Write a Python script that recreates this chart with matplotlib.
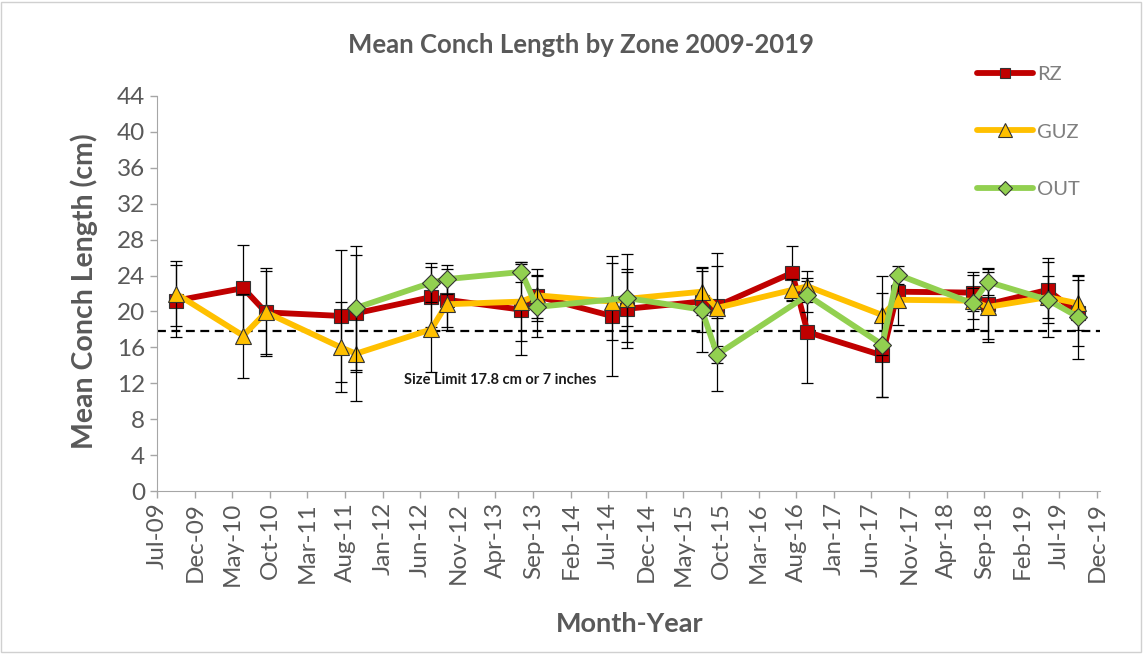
import numpy as np
import matplotlib.pyplot as plt
import matplotlib.dates as mdates
from matplotlib.patches import Rectangle

plt.rcParams['font.family'] = ['Lato', 'DejaVu Sans']

# sampling dates (mid-month)
dates = ['2009-09-15', '2010-06-15', '2010-09-15', '2011-07-15', '2011-09-15',
         '2012-07-15', '2012-09-15', '2013-07-15', '2013-09-15', '2014-07-15',
         '2014-09-15', '2015-07-15', '2015-09-15', '2016-07-15', '2016-09-15',
         '2017-07-15', '2017-09-15', '2018-07-15', '2018-09-15', '2019-05-15',
         '2019-09-15']
nan = np.nan
#mean length (cm) per zone
rz = [21.2, 22.6, 19.9, 19.5, 19.8, 21.6, 21.3, 20.2, 21.7, 19.5, 20.3,
      21.1, 20.6, 24.3, 17.7, 15.1, 22.2, 22.1, 20.8, 22.4, 19.8]
guz = [22.0, 17.3, 19.9, 16.0, 15.3, 18.0, 20.8, 21.1, 21.8, 21.1, 21.4,
       22.2, 20.4, 22.4, 22.8, 19.6, 21.3, 21.2, 20.5, 21.6, 20.9]
out = [nan, nan, nan, nan, 20.4, 23.2, 23.6, 24.4, 20.5, nan, 21.5,
       20.2, 15.2, nan, 21.8, 16.3, 24.1, 20.9, 23.3, 21.3, 19.4]
#error bars
rz_err = [4.0, 4.8, 4.9, 7.4, 6.5, 3.3, 3.4, 5.1, 2.4, 6.7, 4.4,
          3.4, 4.5, 3.0, 5.7, 4.6, 1.5, 2.0, 3.9, 3.1, 3.7]
guz_err = [3.6, 4.7, 4.6, 5.0, 5.3, 4.7, 2.5, 4.4, 2.9, 4.3, 3.0,
           2.6, 6.1, 1.2, 1.7, 4.4, 2.8, 3.2, 3.9, 4.4, 3.0]
out_err = [nan, nan, nan, nan, 6.9, 2.2, 1.6, 1.1, 3.4, nan, 4.9,
           4.7, 4.1, nan, 1.9, 5.8, 1.0, 1.7, 1.5, 2.6, 4.7]
size_limit = 17.8

x = np.array(dates, dtype='datetime64[D]')

fig = plt.figure(figsize=(11.44, 6.54), dpi=100)
ax = fig.add_axes([157/1144, 1-491/654, (1100-157)/1144, (491-96)/654])

series = [("RZ", rz, rz_err, '#C00000', 's', 9.4),
          ("GUZ", guz, guz_err, '#FFC000', '^', 12),
          ("OUT", out, out_err, '#92D050', 'D', 8.7)]

ax.axhline(size_limit, color='black', lw=1.6, ls=(0, (4, 2.5)), zorder=1)

z = 2
for name, y, e, col, mk, ms in series:
    y = np.array(y)
    e = np.array(e)
    m = ~np.isnan(y)
    ax.errorbar(x[m], y[m], yerr=e[m], fmt='none', ecolor='black',
                elinewidth=0.9, capsize=4.3, capthick=0.9, zorder=z)
    ax.plot(x[m], y[m], color=col, lw=4.2, marker=mk, ms=ms,
            mfc=col, mec='#333333', mew=0.8, label=name,
            solid_joinstyle='round', solid_capstyle='round', zorder=z+1)
    z += 2

ax.text(np.datetime64('2013-04-20'), 12.4, 'Size Limit 17.8 cm or 7 inches',
        fontsize=10.5, fontweight='bold', color='#1a1a1a', ha='center', va='center')

ax.set_ylim(0, 44)
ax.set_yticks(np.arange(0, 45, 4))
ax.set_xlim(np.datetime64('2009-07-01'), np.datetime64('2019-12-13'))
ticks = np.arange(np.datetime64('2009-07'), np.datetime64('2020-01'), 5).astype('datetime64[D]')
ax.set_xticks(ticks)
ax.xaxis.set_major_formatter(mdates.DateFormatter('%b-%y'))
for lab in ax.get_xticklabels():
    lab.set_rotation(90)

for s in ['top', 'right']:
    ax.spines[s].set_visible(False)
for s in ['left', 'bottom']:
    ax.spines[s].set_color('#A6A6A6')
ax.tick_params(axis='both', colors='#A6A6A6', length=5, width=1, labelcolor='#595959')
ax.tick_params(axis='y', labelsize=17.5)
ax.tick_params(axis='x', labelsize=17.5, pad=3)

fig.text(581/1144, 1-45/654, 'Mean Conch Length by Zone 2009-2019', fontsize=18.5,
         fontweight='bold', color='#595959', ha='center', va='center')
fig.text(84/1144, 1-291/654, 'Mean Conch Length (cm)', fontsize=20.5, fontweight='bold',
         color='#595959', ha='center', va='center', rotation=90)
fig.text(630/1144, 1-624/654, 'Month-Year', fontsize=19.5, fontweight='bold',
         color='#595959', ha='center', va='center')

fig.legend(loc='upper left', bbox_to_anchor=(967/1144, 1-56/654), frameon=False,
           handlelength=2.8, labelspacing=2.0, handletextpad=0.2, borderpad=0,
           markerscale=0.8, prop={'size': 14.5}, labelcolor='#7F7F7F')

fig.patches.append(Rectangle((0.001, 0.003), 0.996, 0.994, transform=fig.transFigure,
                             fill=False, edgecolor='#D0D0D0', lw=1))

plt.savefig('out.png')
